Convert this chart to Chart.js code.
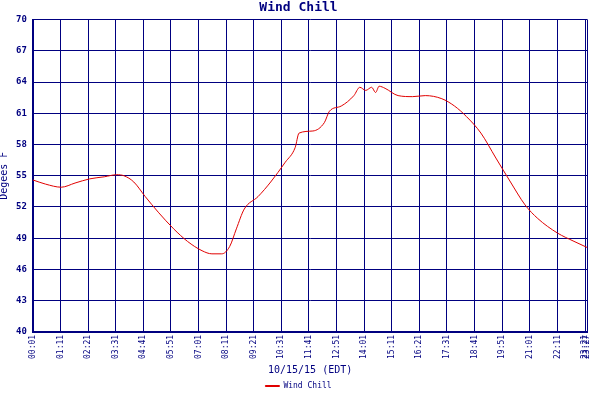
<!DOCTYPE html>
<html>
<head>
<script src="https://cdn.jsdelivr.net/npm/chart.js@4"></script>
<style>body{margin:0;background:#fff}#wrap{width:600px;height:400px}</style>
</head>
<body>
<div id="wrap"><canvas id="c"></canvas></div>
<script>
// minutes after midnight, degrees F
const minutes = [1, 33, 73, 108, 145, 182, 214, 232, 257, 286, 319, 358, 393, 430, 455, 480, 500, 517, 537, 572, 604, 641, 666, 676, 711, 740, 753, 783, 815, 830, 845, 860, 870, 879, 894, 927, 964, 996, 1038, 1070, 1100, 1137, 1175, 1212, 1249, 1281, 1331, 1373, 1407];
const windChill = [54.6, 54.2, 53.9, 54.3, 54.7, 54.9, 55.1, 55.0, 54.4, 53.0, 51.5, 49.9, 48.7, 47.8, 47.5, 47.5, 48.2, 49.9, 51.8, 53.0, 54.4, 56.3, 57.7, 59.1, 59.3, 60.1, 61.2, 61.7, 62.7, 63.5, 63.2, 63.5, 63.0, 63.6, 63.4, 62.7, 62.6, 62.7, 62.4, 61.7, 60.7, 59.1, 56.7, 54.4, 52.2, 50.9, 49.5, 48.7, 48.1];
const xTicks = [1, 71, 141, 211, 281, 351, 421, 491, 561, 631, 701, 771, 841, 911, 981, 1051, 1121, 1191, 1261, 1331, 1401, 1407];
const yTicks = [40, 43, 46, 49, 52, 55, 58, 61, 64, 67, 70];

const navy = '#000080';
const font = { family: 'DejaVu Sans Mono', size: 9, weight: 'bold' };
const hhmm = m => String(Math.floor(m / 60)).padStart(2, '0') + ':' + String(m % 60).padStart(2, '0');

new Chart(document.getElementById('c'), {
  type: 'line',
  data: {
    datasets: [{
      label: 'Wind Chill',
      data: minutes.map((m, i) => ({ x: m, y: windChill[i] })),
      borderColor: '#e00000',
      backgroundColor: '#e00000',
      borderWidth: 1,
      pointRadius: 0,
      cubicInterpolationMode: 'monotone'
    }]
  },
  options: {
    responsive: true,
    maintainAspectRatio: false,
    animation: false,
    layout: { padding: { right: 1, left: -2 } },
    scales: {
      x: {
        type: 'linear', min: 1, max: 1407,
        afterBuildTicks: ax => { ax.ticks = xTicks.map(v => ({ value: v })); },
        ticks: { color: navy, font: { family: 'DejaVu Sans Mono', size: 8 }, maxRotation: 90, minRotation: 90, autoSkip: false, callback: v => hhmm(v) },
        grid: { color: navy, lineWidth: 1, drawTicks: false },
        border: { color: navy, width: 2 },
        title: { display: true, text: '10/15/15 (EDT)', color: navy, font: { family: 'DejaVu Sans Mono', size: 10 }, padding: 2 }
      },
      y: {
        min: 40, max: 70,
        afterBuildTicks: ax => { ax.ticks = yTicks.map(v => ({ value: v })); },
        ticks: { color: navy, font: font, padding: 6 },
        grid: { color: navy, lineWidth: 1, drawTicks: false },
        border: { color: navy, width: 2 },
        title: { display: true, text: 'Degees F', color: navy, font: { family: 'DejaVu Sans Mono', size: 10 }, padding: 0 }
      }
    },
    plugins: {
      title: { display: true, text: 'Wind Chill', color: navy, font: { family: 'DejaVu Sans Mono', size: 13 }, padding: { top: 0, bottom: 4 } },
      legend: {
        position: 'bottom',
        labels: { color: navy, font: { family: 'DejaVu Sans Mono', size: 8 }, boxWidth: 14, boxHeight: 1, padding: 4 }
      },
      tooltip: { enabled: false }
    }
  }
});
</script>
</body>
</html>
